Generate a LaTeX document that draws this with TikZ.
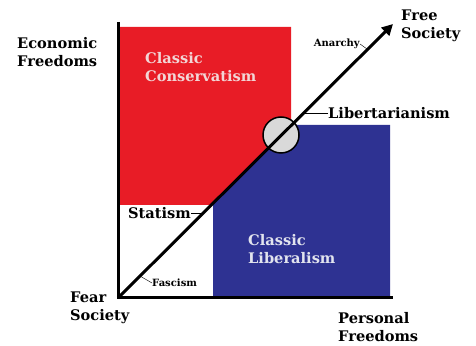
\documentclass[tikz,border=0pt]{standalone}
\usepackage{fontspec}
\setmainfont{DejaVu Serif}
\usetikzlibrary{arrows.meta}

\definecolor{consred}{RGB}{232,28,38}
\definecolor{libblue}{RGB}{46,50,146}
\definecolor{pinkwhite}{RGB}{242,214,214}
\definecolor{bluewhite}{RGB}{226,228,238}

\begin{document}
\begin{tikzpicture}[x=1pt,y=1pt,
  lbl/.style={font=\bfseries\fontsize{14.6}{18.5}\selectfont, align=left, inner sep=0pt},
  tiny/.style={font=\bfseries\fontsize{10}{12}\selectfont, inner sep=0pt},
  leader/.style={thin, color=black}]
\useasboundingbox (0,0) rectangle (476,345);

% Coloured regions, split along the diagonal
\fill[consred] (118,318) -- (291,318) -- (291,220) -- (211,140) -- (118,140) -- cycle;
\fill[libblue] (213,47) -- (390,47) -- (390,220) -- (291,220) -- (213,142) -- cycle;

% Axes
\coordinate (O) at (118,47);
\coordinate (ytop) at (118,323);
\coordinate (xend) at (393,47);
\coordinate (tip) at (393,321);
\draw[line width=3pt] (ytop) -- (O) -- (xend);

% Libertarian circle and diagonal arrow
\node[circle, draw, line width=1.5pt, fill=black!15, minimum size=36pt] (circ) at (281,210) {};
\draw[line width=3pt, -{Triangle[length=11pt,width=11pt]}] (O) -- (tip);

% Points on the diagonal for the leaders
\coordinate (dA) at (367,296);
\coordinate (dL) at (303,232);
\coordinate (dS) at (203,132);
\coordinate (dF) at (140,69);

% Axis labels
\node[lbl, anchor=west] (econ) at (17,293) {Economic\\Freedoms};
\node[lbl, anchor=west] (free) at (401,319) {Free\\Society};
\node[lbl, anchor=west] (fear) at (70,37) {Fear\\Society};
\node[lbl, anchor=west] (personal) at (338,18) {Personal\\Freedoms};

% Region labels
\node[lbl, anchor=west, text=pinkwhite] (cons) at (145,278) {Classic\\Conservatism};
\node[lbl, anchor=west, text=bluewhite] (liber) at (248,96) {Classic\\Liberalism};

% Labels along the diagonal
\node[tiny, anchor=east] (anarchy) at (360,301) {Anarchy};
\node[lbl, anchor=west] (libert) at (328,232) {Libertarianism};
\node[lbl, anchor=east] (statism) at (191,132) {Statism};
\node[tiny, anchor=west] (fascism) at (152,62) {Fascism};

\draw[leader] (anarchy.east) -- (dA);
\draw[leader] (libert.west) -- (dL);
\draw[leader] (statism.east) -- (dS);
\draw[leader] (fascism.west) -- (dF);
\end{tikzpicture}
\end{document}
